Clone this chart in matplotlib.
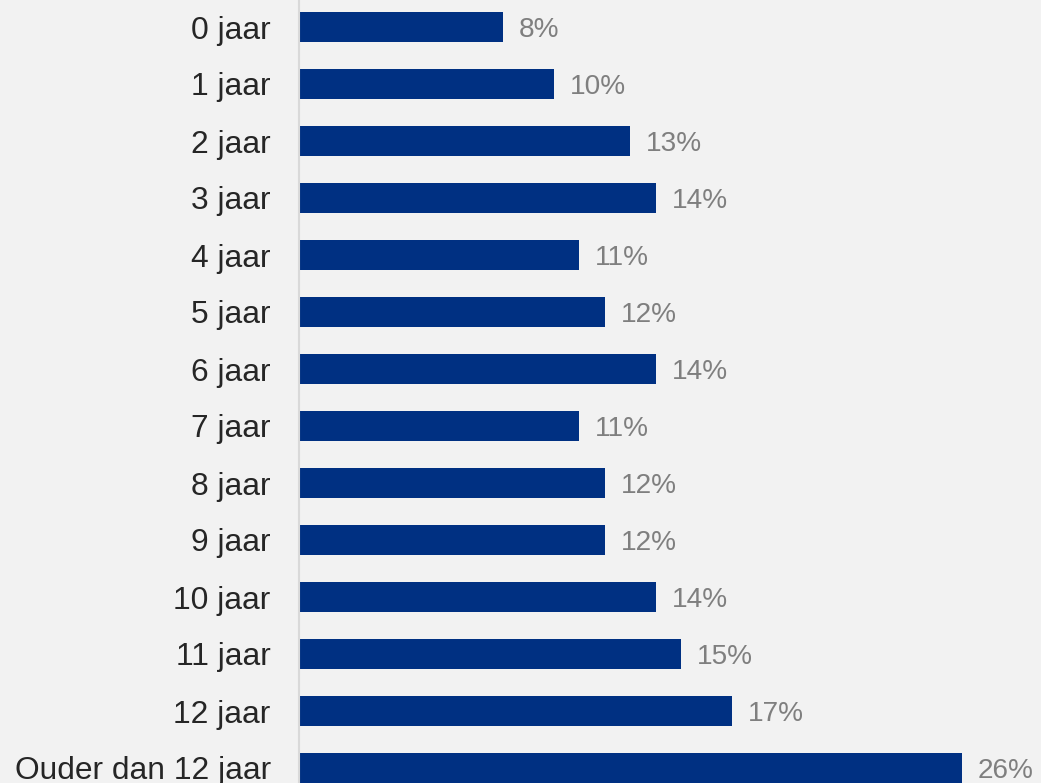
import matplotlib
matplotlib.use("Agg")
import matplotlib.pyplot as plt

categories = ["0 jaar", "1 jaar", "2 jaar", "3 jaar", "4 jaar", "5 jaar", "6 jaar",
              "7 jaar", "8 jaar", "9 jaar", "10 jaar", "11 jaar", "12 jaar",
              "Ouder dan 12 jaar"]
values = [8, 10, 13, 14, 11, 12, 14, 11, 12, 12, 14, 15, 17, 26]
labels = [f"{v}%" for v in values]

plt.rcParams['font.family'] = ['Liberation Sans', 'DejaVu Sans']
W, H = 1041, 783
fig = plt.figure(figsize=(W / 100, H / 100), dpi=100, facecolor="#f2f2f2")
ax = fig.add_axes([298.5 / W, 0, 1 - 298.5 / W, 1])
ax.set_facecolor("#f2f2f2")

pos = list(range(len(categories)))
ax.barh(pos, values, height=0.515, color="#003082")
ax.set_ylim(13 + 15 / 57, -27 / 57)
ax.set_xlim(0, 742.5 / 25.5)

for p, v, t in zip(pos, values, labels):
    ax.annotate(t, (v, p), xytext=(16, -3), textcoords="offset pixels",
                va="center", ha="left", fontsize=20.2, color="#7f7f7f")

ax.set_yticks(pos)
ax.set_yticklabels(categories, fontsize=22.9, color="#262626")
ax.tick_params(axis="y", length=0, pad=20)
ax.set_xticks([])
for s in ["top", "right", "bottom"]:
    ax.spines[s].set_visible(False)
ax.spines["left"].set_color("#d9d9d9")
ax.spines["left"].set_linewidth(1.5)

fig.savefig("out.png", dpi=100, facecolor=fig.get_facecolor())
